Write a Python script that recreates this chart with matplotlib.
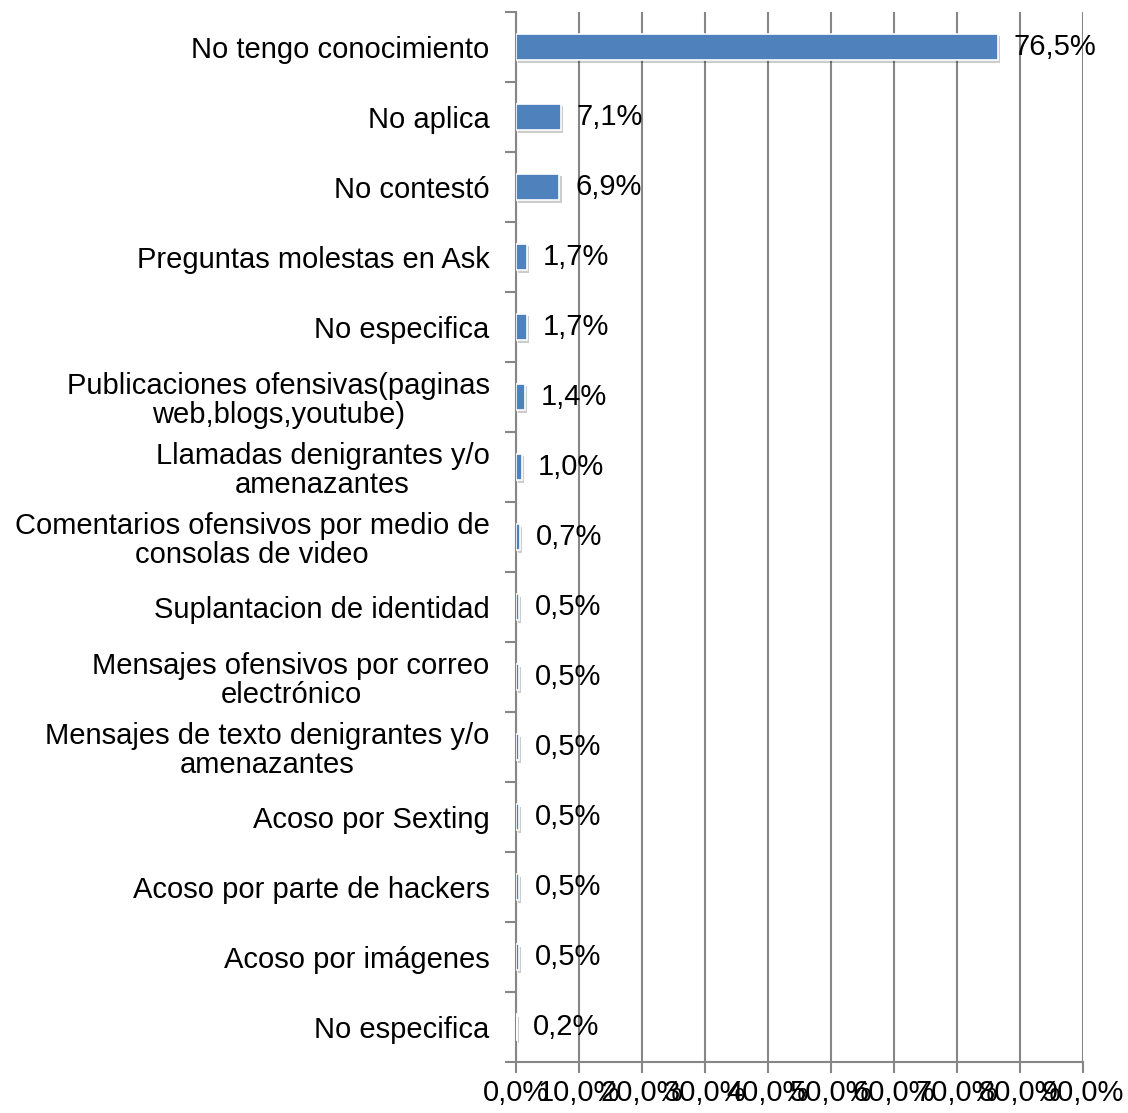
import numpy as np
import matplotlib
matplotlib.use('Agg')
import matplotlib.pyplot as plt
import matplotlib.patheffects as pe
from matplotlib.ticker import FixedLocator

plt.rcParams['font.family'] = ['Liberation Sans', 'DejaVu Sans']

# Survey answers, top to bottom
categories = [
    'No tengo conocimiento',
    'No aplica',
    'No contestó',
    'Preguntas molestas en Ask',
    'No especifica',
    'Publicaciones ofensivas(paginas\nweb,blogs,youtube)',
    'Llamadas denigrantes y/o\namenazantes',
    'Comentarios ofensivos por medio de\nconsolas de video',
    'Suplantacion de identidad',
    'Mensajes ofensivos por correo\nelectrónico',
    'Mensajes de texto denigrantes y/o\namenazantes',
    'Acoso por Sexting',
    'Acoso por parte de hackers',
    'Acoso por imágenes',
    'No especifica',
]
values = [76.5, 7.1, 6.9, 1.7, 1.7, 1.4, 1.0, 0.7, 0.5, 0.5, 0.5, 0.5, 0.5, 0.5, 0.2]
xticks = [0, 10, 20, 30, 40, 50, 60, 70, 80, 90]

fig = plt.figure(figsize=(11.28, 11.13), dpi=100)
ax = fig.add_axes([0.4574, 0.0458, 0.5027, 0.9434])

y = np.arange(len(categories))
bars = ax.barh(y, values, height=0.38, color='#4F81BD', edgecolor='white',
               linewidth=1.2, zorder=3)
for b in bars:
    b.set_path_effects([pe.SimplePatchShadow(offset=(1.5, -2), shadow_rgbFace='#000000', alpha=0.2),
                        pe.Normal()])

for yi, v in zip(y, values):
    ax.annotate(f'{v:.1f}%'.replace('.', ','), (v, yi), xytext=(11.5, 0),
                textcoords='offset points', va='center', ha='left',
                fontsize=21, zorder=4)

ax.set_ylim(len(categories) - 0.5, -0.5)
ax.set_xlim(0, 90)

ax.set_xticks(xticks)
ax.set_xticklabels([f'{t:.1f}%'.replace('.', ',') for t in xticks], fontsize=21)
ax.xaxis.grid(True, color='#868686', linewidth=1.5, zorder=0)

ax.set_yticks(y)
ax.set_yticklabels(categories, fontsize=21, multialignment='center', linespacing=1.05)
ax.tick_params(axis='y', which='major', length=0, pad=19)
ax.yaxis.set_minor_locator(FixedLocator(np.arange(-0.5, len(categories), 1)))
ax.tick_params(axis='y', which='minor', length=8, width=1.5, color='#868686')
ax.tick_params(axis='x', length=8, width=1.5, color='#868686', pad=4)

for s in ['top', 'right']:
    ax.spines[s].set_visible(False)
for s in ['left', 'bottom']:
    ax.spines[s].set_color('#868686')
    ax.spines[s].set_linewidth(1.5)

fig.savefig('out.png', dpi=100)
